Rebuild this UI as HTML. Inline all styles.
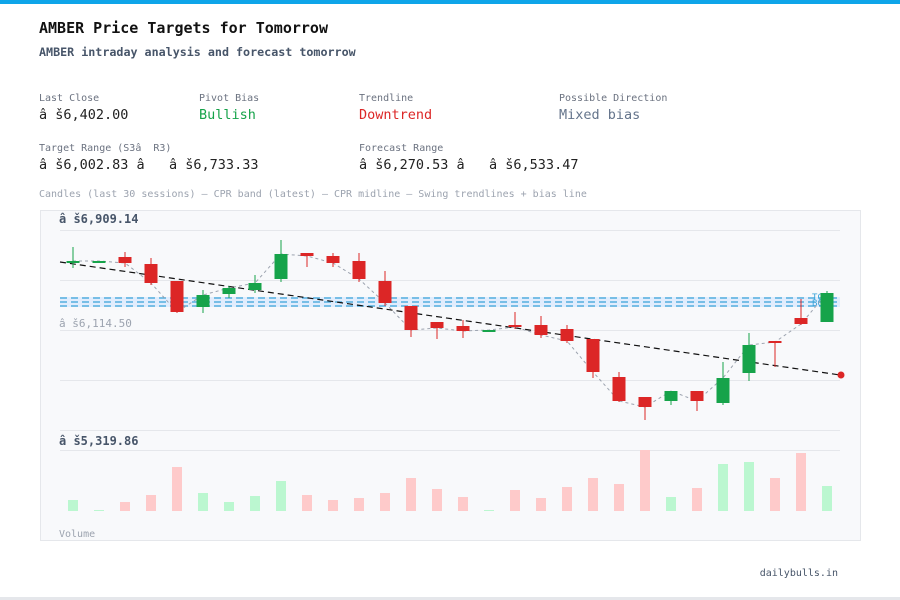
<!DOCTYPE html>
<html><head><meta charset="utf-8"><style>
html,body{margin:0;padding:0;background:#fff;width:900px;height:600px;overflow:hidden;font-family:"DejaVu Sans Mono","Liberation Mono",monospace;}
</style></head><body>
<svg width="900" height="600" xmlns="http://www.w3.org/2000/svg" font-family="DejaVu Sans Mono, Liberation Mono, monospace">
<rect x="0" y="0" width="900" height="4" fill="#0ea5e9"/>
<rect x="0" y="597" width="900" height="3" fill="#e5e7eb"/>
<text x="39" y="33" font-size="15" fill="#111" font-weight="bold">AMBER Price Targets for Tomorrow</text>
<text x="39" y="56" font-size="11.7" fill="#475569" font-weight="bold">AMBER intraday analysis and forecast tomorrow</text>
<g font-size="10" fill="#6b7280">
<text x="39" y="101">Last Close</text><text x="199" y="101">Pivot Bias</text><text x="359" y="101">Trendline</text><text x="559" y="101">Possible Direction</text>
<text x="39" y="151">Target Range (S3â&#160;&#160;R3)</text><text x="359" y="151">Forecast Range</text>
</g>
<g font-size="13.5">
<text x="39" y="119" fill="#222">â š6,402.00</text>
<text x="199" y="119" fill="#16a34a">Bullish</text>
<text x="359" y="119" fill="#dc2626">Downtrend</text>
<text x="559" y="119" fill="#64748b">Mixed bias</text>
<text x="39" y="169" fill="#222">â š6,002.83 â&#160;&#160;&#160;â š6,733.33</text>
<text x="359" y="169" fill="#222">â š6,270.53 â&#160;&#160;&#160;â š6,533.47</text>
</g>
<text x="39" y="197" font-size="10" fill="#9ca3af">Candles (last 30 sessions) — CPR band (latest) — CPR midline — Swing trendlines + bias line</text>
<rect x="40.5" y="210.5" width="820" height="330" fill="#f8f9fb" stroke="#e5e7eb"/>
<g stroke="#e5e7eb" stroke-width="1">
<line x1="60" y1="230.5" x2="840" y2="230.5"/><line x1="60" y1="280.5" x2="840" y2="280.5"/><line x1="60" y1="330.5" x2="840" y2="330.5"/><line x1="60" y1="380.5" x2="840" y2="380.5"/><line x1="60" y1="430.5" x2="840" y2="430.5"/><line x1="60" y1="450.5" x2="840" y2="450.5"/>
</g>
<text x="59" y="223" font-size="12" fill="#475569" font-weight="bold">â š6,909.14</text>
<text x="59" y="327" font-size="11" fill="#9ca3af">â š6,114.50</text>
<text x="59" y="445" font-size="12" fill="#475569" font-weight="bold">â š5,319.86</text>
<text x="59" y="537" font-size="10" fill="#9ca3af">Volume</text>
<rect x="60" y="297" width="780" height="10" fill="#dbeafe" opacity="0.8"/>
<g stroke="#38a3d8" stroke-width="1.3" stroke-dasharray="7,4">
<line x1="60" y1="298" x2="840" y2="298"/><line x1="60" y1="302" x2="840" y2="302"/><line x1="60" y1="306" x2="840" y2="306"/>
</g>
<text x="812" y="300" font-size="9" fill="#38a3d8">TC</text>
<text x="812" y="306" font-size="9" fill="#38a3d8">BC</text>
<polyline fill="none" stroke="#9ca3af" stroke-width="1" stroke-dasharray="3,3" points="73,261 99,261 125,263 151,283 177,312 203,295 229,288 255,283 281,254 307,256 333,263 359,279 385,303 411,330 437,328 463,331 489,330 515,327 541,335 567,341 593,372 619,401 645,407 671,391 697,401 723,378 749,345 775,342 801,324 827,293"/>
<line x1="60" y1="262" x2="840" y2="375" stroke="#111" stroke-width="1.2" stroke-dasharray="6,4"/>
<circle cx="841" cy="375" r="3.5" fill="#dc2626"/>
<g>
<g fill="#16a34a" stroke="#16a34a">
<line x1="73" y1="247" x2="73" y2="268"/><rect x="66.5" y="261" width="13" height="2" stroke="none"/>
<rect x="92.5" y="261" width="13" height="2" stroke="none"/>
<line x1="203" y1="290" x2="203" y2="313"/><rect x="196.5" y="295" width="13" height="12" stroke="none"/>
<line x1="229" y1="286" x2="229" y2="298"/><rect x="222.5" y="288" width="13" height="6" stroke="none"/>
<line x1="255" y1="275" x2="255" y2="293"/><rect x="248.5" y="283" width="13" height="7" stroke="none"/>
<line x1="281" y1="240" x2="281" y2="282"/><rect x="274.5" y="254" width="13" height="25" stroke="none"/>
<rect x="482.5" y="330" width="13" height="2" stroke="none"/>
<line x1="671" y1="391" x2="671" y2="405"/><rect x="664.5" y="391" width="13" height="10" stroke="none"/>
<line x1="723" y1="362" x2="723" y2="405"/><rect x="716.5" y="378" width="13" height="25" stroke="none"/>
<line x1="749" y1="333" x2="749" y2="381"/><rect x="742.5" y="345" width="13" height="28" stroke="none"/>
<line x1="827" y1="291" x2="827" y2="322"/><rect x="820.5" y="293" width="13" height="29" stroke="none"/>
</g>
<g fill="#dc2626" stroke="#dc2626">
<line x1="125" y1="252" x2="125" y2="267"/><rect x="118.5" y="257" width="13" height="6" stroke="none"/>
<line x1="151" y1="258" x2="151" y2="285"/><rect x="144.5" y="264" width="13" height="19" stroke="none"/>
<line x1="177" y1="281" x2="177" y2="313"/><rect x="170.5" y="281" width="13" height="31" stroke="none"/>
<line x1="307" y1="253" x2="307" y2="267"/><rect x="300.5" y="253" width="13" height="3" stroke="none"/>
<line x1="333" y1="253" x2="333" y2="267"/><rect x="326.5" y="256" width="13" height="7" stroke="none"/>
<line x1="359" y1="253" x2="359" y2="282"/><rect x="352.5" y="261" width="13" height="18" stroke="none"/>
<line x1="385" y1="271" x2="385" y2="306"/><rect x="378.5" y="281" width="13" height="22" stroke="none"/>
<line x1="411" y1="306" x2="411" y2="337"/><rect x="404.5" y="306" width="13" height="24" stroke="none"/>
<line x1="437" y1="322" x2="437" y2="339"/><rect x="430.5" y="322" width="13" height="6" stroke="none"/>
<line x1="463" y1="320" x2="463" y2="338"/><rect x="456.5" y="326" width="13" height="5" stroke="none"/>
<line x1="515" y1="312" x2="515" y2="329"/><rect x="508.5" y="325" width="13" height="2" stroke="none"/>
<line x1="541" y1="316" x2="541" y2="338"/><rect x="534.5" y="325" width="13" height="10" stroke="none"/>
<line x1="567" y1="325" x2="567" y2="343"/><rect x="560.5" y="329" width="13" height="12" stroke="none"/>
<line x1="593" y1="339" x2="593" y2="378"/><rect x="586.5" y="339" width="13" height="33" stroke="none"/>
<line x1="619" y1="372" x2="619" y2="402"/><rect x="612.5" y="377" width="13" height="24" stroke="none"/>
<line x1="645" y1="397" x2="645" y2="420"/><rect x="638.5" y="397" width="13" height="10" stroke="none"/>
<line x1="697" y1="391" x2="697" y2="411"/><rect x="690.5" y="391" width="13" height="10" stroke="none"/>
<line x1="775" y1="341" x2="775" y2="367"/><rect x="768.5" y="341" width="13" height="2" stroke="none"/>
<line x1="801" y1="299" x2="801" y2="325"/><rect x="794.5" y="318" width="13" height="6" stroke="none"/>
</g>
</g>
<g>
<rect x="68" y="500" width="10" height="11" fill="#bbf7d0"/>
<rect x="94" y="510" width="10" height="1" fill="#bbf7d0"/>
<rect x="120" y="502" width="10" height="9" fill="#fecaca"/>
<rect x="146" y="495" width="10" height="16" fill="#fecaca"/>
<rect x="172" y="467" width="10" height="44" fill="#fecaca"/>
<rect x="198" y="493" width="10" height="18" fill="#bbf7d0"/>
<rect x="224" y="502" width="10" height="9" fill="#bbf7d0"/>
<rect x="250" y="496" width="10" height="15" fill="#bbf7d0"/>
<rect x="276" y="481" width="10" height="30" fill="#bbf7d0"/>
<rect x="302" y="495" width="10" height="16" fill="#fecaca"/>
<rect x="328" y="500" width="10" height="11" fill="#fecaca"/>
<rect x="354" y="498" width="10" height="13" fill="#fecaca"/>
<rect x="380" y="493" width="10" height="18" fill="#fecaca"/>
<rect x="406" y="478" width="10" height="33" fill="#fecaca"/>
<rect x="432" y="489" width="10" height="22" fill="#fecaca"/>
<rect x="458" y="497" width="10" height="14" fill="#fecaca"/>
<rect x="484" y="510" width="10" height="1" fill="#bbf7d0"/>
<rect x="510" y="490" width="10" height="21" fill="#fecaca"/>
<rect x="536" y="498" width="10" height="13" fill="#fecaca"/>
<rect x="562" y="487" width="10" height="24" fill="#fecaca"/>
<rect x="588" y="478" width="10" height="33" fill="#fecaca"/>
<rect x="614" y="484" width="10" height="27" fill="#fecaca"/>
<rect x="640" y="450" width="10" height="61" fill="#fecaca"/>
<rect x="666" y="497" width="10" height="14" fill="#bbf7d0"/>
<rect x="692" y="488" width="10" height="23" fill="#fecaca"/>
<rect x="718" y="464" width="10" height="47" fill="#bbf7d0"/>
<rect x="744" y="462" width="10" height="49" fill="#bbf7d0"/>
<rect x="770" y="478" width="10" height="33" fill="#fecaca"/>
<rect x="796" y="453" width="10" height="58" fill="#fecaca"/>
<rect x="822" y="486" width="10" height="25" fill="#bbf7d0"/>
</g>
<text x="838" y="576" font-size="10" fill="#475569" text-anchor="end">dailybulls.in</text>
</svg>
</body></html>
